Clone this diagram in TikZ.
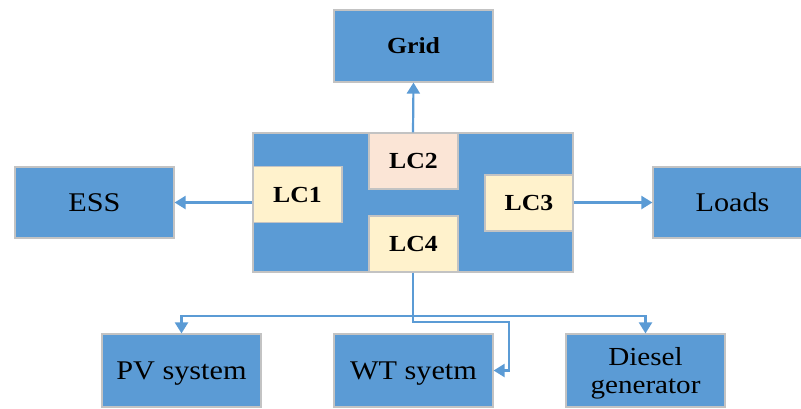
\documentclass[tikz,border=0pt]{standalone}
\usepackage{fontspec}
\setmainfont{Liberation Serif}[FakeStretch=1.12]
\usetikzlibrary{arrows.meta}
\definecolor{boxblue}{HTML}{5B9BD5}
\definecolor{boxedge}{HTML}{C3C3C3}
\definecolor{cream}{HTML}{FFF2CC}
\definecolor{peach}{HTML}{FBE5D6}
\definecolor{linecol}{HTML}{5B9BD5}
\tikzset{
  bigbox/.style={draw=boxedge, line width=1.2pt, fill=boxblue, inner sep=0pt,
    minimum width=159pt, minimum height=72pt, align=center, font=\fontsize{27}{29}\selectfont},
  lcbox/.style={draw=boxedge, line width=1.2pt, fill=cream, inner sep=0pt,
    minimum width=89pt, minimum height=56pt, font=\fontsize{23}{25}\selectfont\bfseries},
  conn/.style={draw=linecol, line width=2.2pt, -{Triangle[width=13pt,length=11pt]}},
  plain/.style={draw=linecol, line width=2.2pt}
}
\begin{document}
\begin{tikzpicture}[x=1pt,y=-1pt]
\useasboundingbox (0,0) rectangle (801,408);
\begin{scope}
\clip (0,0) rectangle (801,408);
\node[bigbox, font=\fontsize{23}{25}\selectfont\bfseries] (grid) at (413.5,46) {Grid};
\node[bigbox, minimum width=320pt, minimum height=139pt] (central) at (413,202.5) {};
\node[lcbox] (lc1) at (297.5,194.5) {LC1};
\node[lcbox, fill=peach] (lc2) at (413.5,161) {LC2};
\node[lcbox, minimum width=88pt] (lc3) at (529,203) {LC3};
\node[lcbox] (lc4) at (413.5,244) {LC4};
\node[bigbox, minimum height=71pt] (ess) at (94.5,202.5) {ESS};
\node[bigbox, minimum height=71pt] (loads) at (732.5,202.5) {Loads};
\node[bigbox, minimum height=73pt, text depth=0pt, font=\fontsize{27}{29}\selectfont] (pv) at (181.5,370.5) {PV system};
\node[bigbox, minimum height=73pt, text depth=0pt, font=\fontsize{27}{29}\selectfont] (wt) at (413.5,370.5) {WT syetm};
\node[bigbox, minimum height=73pt, text depth=0pt, font=\fontsize{26}{28}\selectfont] (diesel) at (645.5,370.5) {Diesel\\generator};
\end{scope}
\coordinate (j) at (413,316);
\coordinate (k) at (509,322);
\draw[conn] (central.north) -- (grid.south);
\draw[conn] (central.west) -- (ess.east);
\draw[conn] (central.east) -- (loads.west);
\draw[plain] (central.south) -- (j);
\draw[conn] (j) -| (pv.north);
\draw[conn] (j) -| (diesel.north);
\draw[conn] (central.south) |- (k) |- (wt.east);
\end{tikzpicture}
\end{document}
